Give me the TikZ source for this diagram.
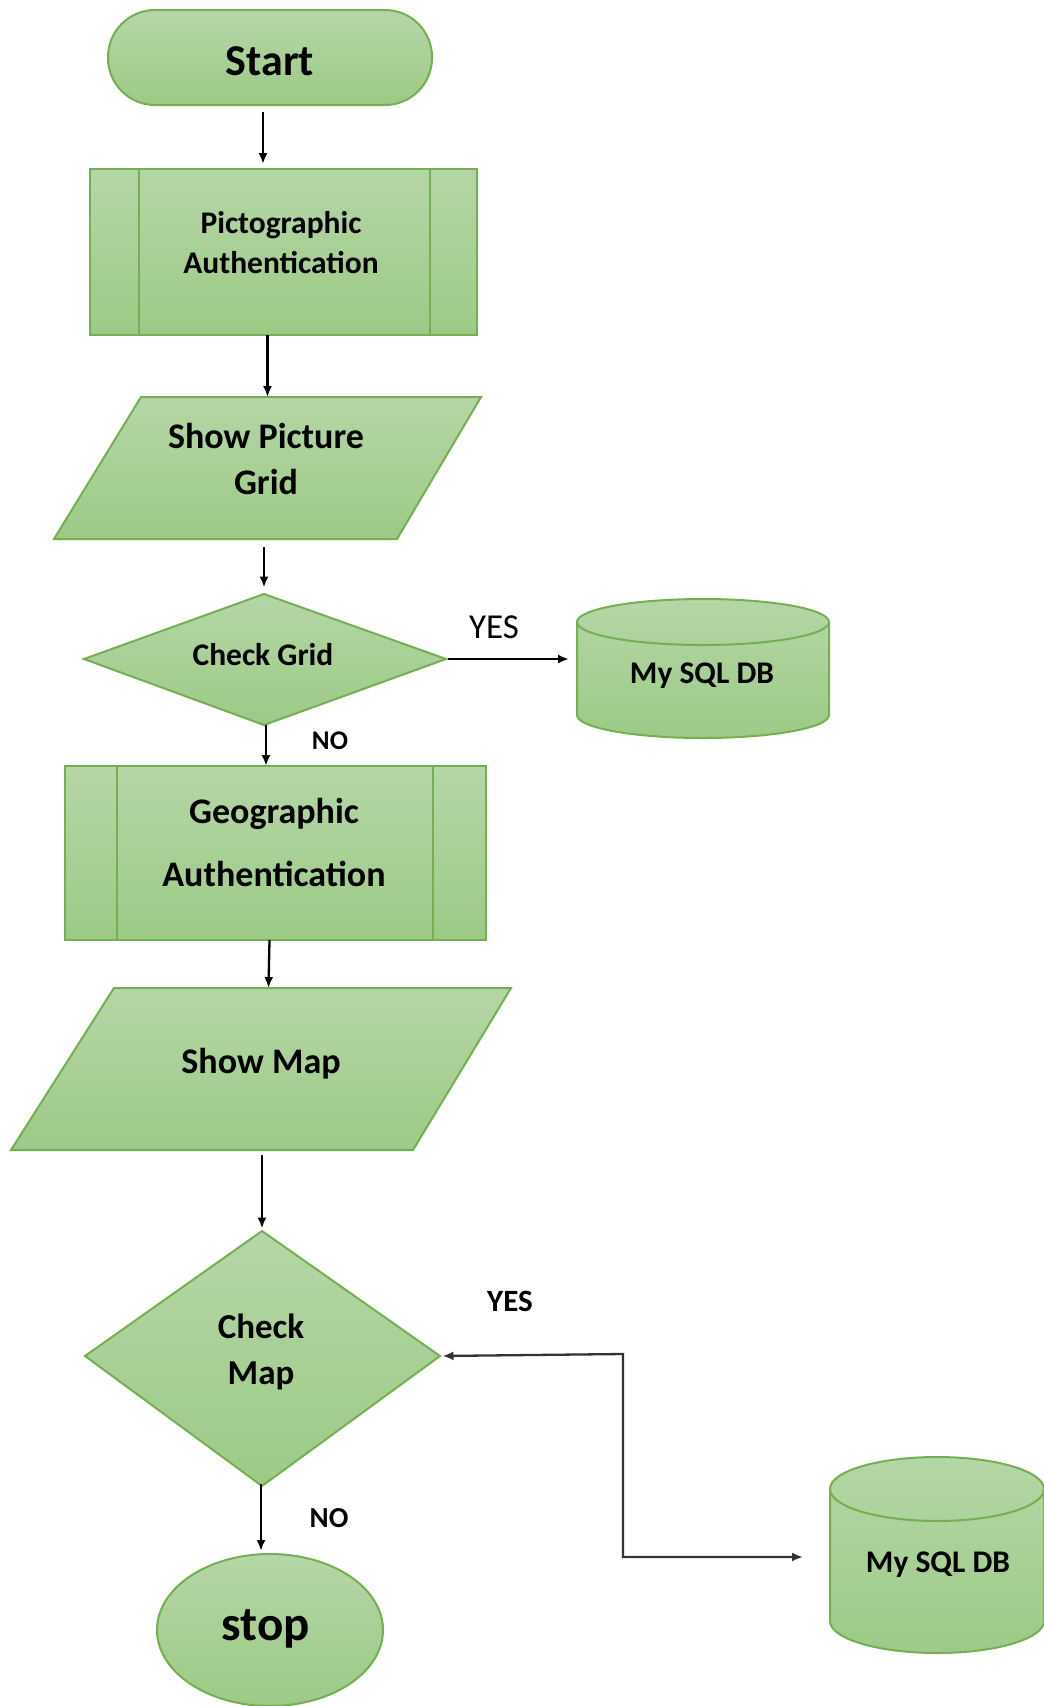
\documentclass[tikz,border=0pt]{standalone}
\usepackage{fontspec}
\setmainfont{Carlito}
\usetikzlibrary{arrows.meta}
\definecolor{gtop}{HTML}{B5D6A6}
\definecolor{gbot}{HTML}{9DCA86}
\definecolor{gline}{HTML}{74B052}
\newcommand{\fsz}[2]{\fontsize{#1}{#2}\selectfont}
\tikzset{
  shp/.style={draw=gline, line width=2pt, top color=gtop, bottom color=gbot},
  holder/.style={inner sep=0pt, outer sep=0pt},
  txt/.style={inner sep=0pt, outer sep=0pt, align=center, font=\bfseries},
  conn/.style={line width=2.3pt, black, -{Latex[length=11pt,width=9pt]}},
  lbl/.style={inner sep=0pt, font=\bfseries}
}
\begin{document}
\begin{tikzpicture}[x=1pt,y=-1pt]
\useasboundingbox[fill=white] (0,0) rectangle (1044,1706);

% Start
\path[shp, rounded corners=47pt] (108,10) rectangle (432,105);
\node[holder, minimum width=324pt, minimum height=95pt] (start) at (270,57.5) {};
\node[txt, font=\bfseries\fsz{44}{52}] (start-t) at (270,61) {Start};

% Pictographic Authentication
\path[shp] (90,169) rectangle (477,335);
\draw[gline, line width=2pt] (139,169) -- (139,335) (430,169) -- (430,335);
\node[holder, minimum width=387pt, minimum height=166pt] (pict) at (283.5,252) {};
\node[txt, font=\bfseries\fsz{31.5}{40}] (pict-t) at (281,243) {Pictographic\\Authentication};

% Show Picture Grid
\path[shp] (141,397) -- (481,397) -- (397,539) -- (54,539) -- cycle;
\node[holder, minimum width=340pt, minimum height=142pt] (spg) at (267.5,468) {};
\node[txt, font=\bfseries\fsz{36}{46}] (spg-t) at (266,459) {Show Picture\\Grid};

% Check Grid
\path[shp] (264,594) -- (446,659) -- (264,725) -- (84,659) -- cycle;
\node[holder, minimum width=362pt, minimum height=131pt] (cg) at (264,659) {};
\node[txt, font=\bfseries\fsz{31.5}{37}] (cg-t) at (263,655) {Check Grid};

% DB 1
\path[shp] (577,622) -- (577,715) arc[start angle=180, end angle=360, x radius=126pt, y radius=23pt] -- (829,622) arc[start angle=0, end angle=180, x radius=126pt, y radius=23pt] -- cycle;
\draw[gline, line width=2pt] (577,622) arc[start angle=180, end angle=360, x radius=126pt, y radius=23pt];
\node[holder, minimum width=252pt, minimum height=139pt] (db1) at (703,668) {};
\node[txt, font=\bfseries\fsz{31.5}{37}] (db1-t) at (702,676) {My SQL DB};

% Geographic Authentication
\path[shp] (65,766) rectangle (486,940);
\draw[gline, line width=2pt] (117,766) -- (117,940) (433,766) -- (433,940);
\node[holder, minimum width=421pt, minimum height=174pt] (geo) at (275.5,853) {};
\node[txt, font=\bfseries\fsz{36}{63}] (geo-t) at (274,842) {Geographic\\Authentication};

% Show Map
\path[shp] (114,988) -- (511,988) -- (413,1150) -- (11,1150) -- cycle;
\node[holder, minimum width=400pt, minimum height=162pt] (sm) at (262,1069) {};
\node[txt, font=\bfseries\fsz{36}{43}] (sm-t) at (261,1063.5) {Show Map};

% Check Map
\path[shp] (262,1231) -- (440,1356) -- (262,1486) -- (85,1356) -- cycle;
\node[holder, minimum width=355pt, minimum height=255pt] (cm) at (262,1356) {};
\node[txt, font=\bfseries\fsz{35}{46}] (cm-t) at (261,1352) {Check\\Map};

% DB 2
\path[shp] (830,1489) -- (830,1621) arc[start angle=180, end angle=360, x radius=107pt, y radius=32pt] -- (1044,1489) arc[start angle=0, end angle=180, x radius=107pt, y radius=32pt] -- cycle;
\draw[gline, line width=2pt] (830,1489) arc[start angle=180, end angle=360, x radius=107pt, y radius=32pt];
\node[holder, minimum width=214pt, minimum height=196pt] (db2) at (937,1555) {};
\node[txt, font=\bfseries\fsz{31.5}{37}] (db2-t) at (938,1565) {My SQL DB};

% stop
\path[shp] (270,1630) ellipse[x radius=113pt, y radius=76pt];
\node[holder, minimum width=226pt, minimum height=152pt] (stop) at (270,1630) {};
\node[txt, font=\bfseries\fsz{49}{58}] (stop-t) at (266,1628.5) {stop};

% connectors
\draw[conn, shorten <=7pt, shorten >=5pt] (263,105) -- (263,169);
\draw[conn] ([xshift=-16pt]pict.south) -- ([xshift=-16pt]pict.south |- spg.north);
\draw[conn, shorten <=8pt, shorten >=6pt] (264,539) -- (cg.north);
\draw[conn, shorten <=3pt, shorten >=8pt] (cg.east) -- (db1.west |- cg.east);
\draw[conn] ([xshift=2pt]cg.south) -- ([xshift=2pt]cg.south |- geo.north);
\draw[conn] ([xshift=-6pt]geo.south) -- ([xshift=-7pt]geo.south |- sm.north);
\draw[conn, shorten <=5pt] (262,1150) -- (cm.north);
\draw[conn, shorten >=3pt] ([xshift=-1pt]cm.south) -- ([xshift=-1pt]cm.south |- stop.north);

\coordinate (k1) at (623,1354);
\coordinate (k2) at (623,1557);
\draw[line width=2.3pt, black!80, {Latex[length=11pt,width=9pt]}-{Latex[length=11pt,width=9pt]}, shorten <=3pt, shorten >=27pt] (cm.east) -- (k1) -- (k2) -- (db2.west |- k2);

% labels
\node[lbl, font=\fsz{35}{42}] (yes1) at (494,627) {YES};
\node[lbl, font=\bfseries\fsz{27}{32}] (no1) at (330,741) {NO};
\node[lbl, font=\bfseries\fsz{31}{37}] (yes2) at (510,1301) {YES};
\node[lbl, font=\bfseries\fsz{29}{35}] (no2) at (329,1518) {NO};
\end{tikzpicture}
\end{document}
